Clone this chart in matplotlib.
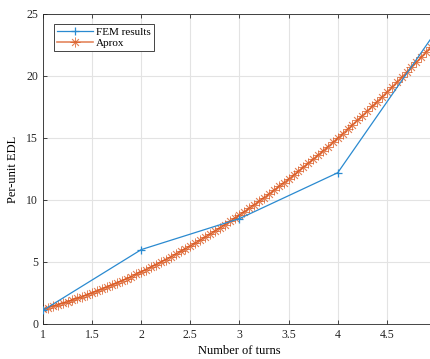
import matplotlib.pyplot as plt

# data
turns_fem = [1, 2, 3, 4, 5]
edl_fem = [1.1, 6.0, 8.5, 12.2, 23.6]

turns_aprox = [1.00, 1.05, 1.10, 1.15, 1.20, 1.25, 1.30, 1.35, 1.40, 1.45,
               1.50, 1.55, 1.60, 1.65, 1.70, 1.75, 1.80, 1.85, 1.90, 1.95,
               2.00, 2.05, 2.10, 2.15, 2.20, 2.25, 2.30, 2.35, 2.40, 2.45,
               2.50, 2.55, 2.60, 2.65, 2.70, 2.75, 2.80, 2.85, 2.90, 2.95,
               3.00, 3.05, 3.10, 3.15, 3.20, 3.25, 3.30, 3.35, 3.40, 3.45,
               3.50, 3.55, 3.60, 3.65, 3.70, 3.75, 3.80, 3.85, 3.90, 3.95,
               4.00, 4.05, 4.10, 4.15, 4.20, 4.25, 4.30, 4.35, 4.40, 4.45,
               4.50, 4.55, 4.60, 4.65, 4.70, 4.75, 4.80, 4.85, 4.90, 4.95,
               5.00]
edl_aprox = [1.20, 1.31, 1.43, 1.55, 1.67, 1.80, 1.93, 2.07, 2.21, 2.35,
             2.50, 2.65, 2.81, 2.97, 3.13, 3.30, 3.47, 3.65, 3.83, 4.01,
             4.20, 4.39, 4.59, 4.79, 4.99, 5.20, 5.41, 5.63, 5.85, 6.07,
             6.30, 6.53, 6.77, 7.01, 7.25, 7.50, 7.75, 8.01, 8.27, 8.53,
             8.80, 9.07, 9.35, 9.63, 9.91, 10.20, 10.49, 10.79, 11.09, 11.39,
             11.70, 12.01, 12.33, 12.65, 12.97, 13.30, 13.63, 13.97, 14.31, 14.65,
             15.00, 15.35, 15.71, 16.07, 16.43, 16.80, 17.17, 17.55, 17.93, 18.31,
             18.70, 19.09, 19.49, 19.89, 20.29, 20.70, 21.11, 21.53, 21.95, 22.37,
             22.80]

xticks = [1, 1.5, 2, 2.5, 3, 3.5, 4, 4.5, 5]
xlabels = ['1', '1.5', '2', '2.5', '3', '3.5', '4', '4.5', '']  # 5 is cut off in the original
yticks = [0, 5, 10, 15, 20, 25]

plt.rcParams['font.family'] = ['Liberation Serif', 'DejaVu Serif']
plt.rcParams['font.size'] = 8

fig = plt.figure(figsize=(4.31, 3.59), dpi=100)
ax = fig.add_axes([43 / 431, 35 / 359, 393 / 431, 310 / 359])

ax.plot(turns_fem, edl_fem, color='#2a8ad0', lw=0.9, marker='+', ms=6,
        mew=0.9, label='FEM results', zorder=3)
ax.plot(turns_aprox, edl_aprox, color='#D95319', lw=1.2, marker=(8, 2, 0),
        ms=7, mew=0.6, alpha=0.7, label='Aprox', zorder=2)

ax.set_xlim(1, 5)
ax.set_ylim(0, 25)
ax.set_xticks(xticks)
ax.set_xticklabels(xlabels)
ax.set_yticks(yticks)
ax.grid(True, color='#e3e3e3', lw=0.8)
ax.set_axisbelow(True)
ax.tick_params(direction='in', length=3, width=0.6, colors='#262626',
               top=True, right=True, labelsize=8.5)
for s in ax.spines.values():
    s.set_color('#262626')
    s.set_linewidth(0.6)

ax.set_xlabel('Number of turns', fontsize=9, labelpad=3)
ax.set_ylabel('Per-unit EDL', fontsize=9, labelpad=5)

leg = ax.legend(loc='upper left', fontsize=8, fancybox=False, framealpha=1,
                edgecolor='#262626', handlelength=3.2, borderpad=0.3,
                labelspacing=0.1, handletextpad=0.3, borderaxespad=0,
                bbox_to_anchor=(11 / 393, 1 - 10 / 310))
leg.get_frame().set_linewidth(0.6)

fig.savefig('out.png', dpi=100)
